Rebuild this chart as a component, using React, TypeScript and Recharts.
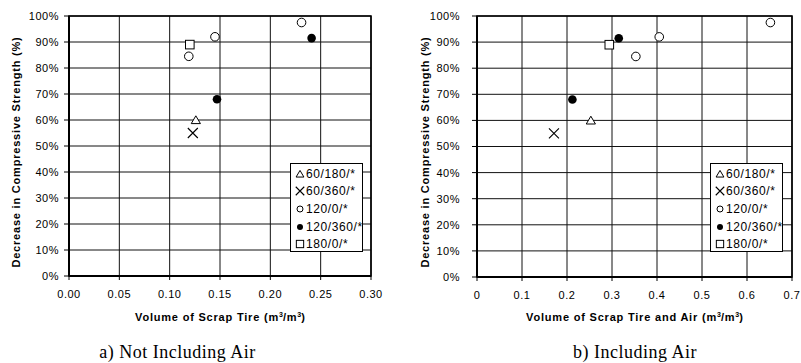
import { ScatterChart, Scatter, XAxis, YAxis, CartesianGrid, ReferenceArea } from "recharts";

const SANS = "Arial, 'Liberation Sans', Helvetica, sans-serif";
const SERIF = "'Times New Roman', 'Liberation Serif', serif";

const yTicks = [0, 10, 20, 30, 40, 50, 60, 70, 80, 90, 100];
const xTicksA = [0, 0.05, 0.1, 0.15, 0.2, 0.25, 0.3];
const xTicksB = [0, 0.1, 0.2, 0.3, 0.4, 0.5, 0.6, 0.7];

const seriesNames = ["60/180/*", "60/360/*", "120/0/*", "120/360/*", "180/0/*"];
const markerKinds = ["triangle", "cross", "circle", "dot", "square"];

// a) not including air
const a60_180 = [{ x: 0.126, y: 60 }];
const a60_360 = [{ x: 0.123, y: 55 }];
const a120_0 = [
  { x: 0.119, y: 84.5 },
  { x: 0.145, y: 92 },
  { x: 0.231, y: 97.5 },
];
const a120_360 = [
  { x: 0.147, y: 68 },
  { x: 0.241, y: 91.5 },
];
const a180_0 = [{ x: 0.12, y: 89 }];

// b) including air
const b60_180 = [{ x: 0.253, y: 60 }];
const b60_360 = [{ x: 0.171, y: 55 }];
const b120_0 = [
  { x: 0.353, y: 84.5 },
  { x: 0.405, y: 92 },
  { x: 0.652, y: 97.5 },
];
const b120_360 = [
  { x: 0.212, y: 68 },
  { x: 0.315, y: 91.5 },
];
const b180_0 = [{ x: 0.294, y: 89 }];

const Marker = ({ kind, cx, cy, k = 1 }: any) => {
  if (cx == null || cy == null) return null;
  switch (kind) {
    case "triangle":
      return (
        <polygon
          points={`${cx},${cy - 4.2 * k} ${cx + 4.6 * k},${cy + 3.6 * k} ${cx - 4.6 * k},${cy + 3.6 * k}`}
          fill="#fff"
          stroke="#000"
          strokeWidth={1}
        />
      );
    case "cross":
      return (
        <path
          d={`M${cx - 5 * k},${cy - 5 * k}L${cx + 5 * k},${cy + 5 * k}M${cx + 5 * k},${cy - 5 * k}L${cx - 5 * k},${cy + 5 * k}`}
          stroke="#000"
          strokeWidth={1.1}
        />
      );
    case "circle":
      return <circle cx={cx} cy={cy} r={4.3 * k} fill="#fff" stroke="#000" strokeWidth={1} />;
    case "dot":
      return <circle cx={cx} cy={cy} r={4.3 * k} fill="#000" />;
    default:
      return (
        <rect x={cx - 4.3 * k} y={cy - 4.3 * k} width={8.6 * k} height={8.6 * k} fill="#fff" stroke="#000" strokeWidth={1} />
      );
  }
};

const XTitle = ({ width, xx, xText }: any) => (
  <svg
    width={width}
    height={363}
    style={{ position: "absolute", left: 0, top: 0, pointerEvents: "none" }}
  >
    <text x={xx} y={321} textAnchor="middle" fontFamily={SANS} fontWeight="bold" fontSize={11} fill="#000">
      <tspan letterSpacing={0.8}>{xText} (m</tspan>
      <tspan dy={-4} fontSize={7}>3</tspan>
      <tspan dy={4} letterSpacing={0.8}>/m</tspan>
      <tspan dy={-4} fontSize={7}>3</tspan>
      <tspan dy={4}>)</tspan>
    </text>
  </svg>
);

const YTitle = ({ cx }: any) => (
  <div
    style={{
      position: "absolute",
      left: cx - 130,
      top: 152 - 7,
      width: 260,
      height: 14,
      lineHeight: "14px",
      textAlign: "center",
      transform: "rotate(-90deg)",
      fontFamily: SANS,
      fontWeight: "bold",
      fontSize: 11,
      letterSpacing: 0.8,
      whiteSpace: "nowrap",
      color: "#000",
    }}
  >
    Decrease in Compressive Strength (%)
  </div>
);

const LegendBox = ({ left }: any) => (
  <div
    style={{
      position: "absolute",
      left,
      top: 163,
      width: 73,
      height: 89,
      boxSizing: "border-box",
      border: "1px solid #000",
      background: "#fff",
      padding: "1px 0 0 4px",
      fontFamily: SANS,
      fontSize: 12,
      letterSpacing: 0.6,
      color: "#000",
      whiteSpace: "nowrap",
    }}
  >
    {seriesNames.map((n, i) => (
      <div key={n} style={{ height: 17.6, display: "flex", alignItems: "center" }}>
        <svg width={10} height={10} style={{ marginRight: 1, overflow: "visible" }}>
          <Marker kind={markerKinds[i]} cx={5} cy={5} k={i === 2 || i === 3 ? 0.7 : 0.85} />
        </svg>
        <span>{n}</span>
      </div>
    ))}
  </div>
);

const tickStyle = { fontSize: 11, fill: "#000", fontFamily: SANS, letterSpacing: 0.5 };

const Panel = ({
  left,
  width,
  rightMargin,
  bottomMargin,
  yWidth,
  yTickMargin,
  xMax,
  xTicks,
  xFormat,
  xTitle,
  yTitleX,
  legendLeft,
  caption,
  captionCenter,
  sets,
}: any) => {
  const plotCenter = yWidth + (width - yWidth - rightMargin) / 2;
  return (
    <div style={{ position: "absolute", left, top: 0, width, height: 363 }}>
      <ScatterChart width={width} height={363} margin={{ top: 16, right: rightMargin, bottom: bottomMargin, left: 0 }}>
        <CartesianGrid stroke="#111" strokeWidth={1} />
        <XAxis
          type="number"
          dataKey="x"
          domain={[0, xMax]}
          ticks={xTicks}
          tickFormatter={xFormat}
          height={40}
          tick={tickStyle}
          tickSize={4}
          tickMargin={10}
          tickLine={{ stroke: "#000" }}
          axisLine={{ stroke: "#000", strokeWidth: 2 }}
          interval={0}
        />
        <YAxis
          type="number"
          dataKey="y"
          domain={[0, 100]}
          ticks={yTicks}
          tickFormatter={(v: number) => `${v}%`}
          width={yWidth}
          tick={tickStyle}
          tickSize={5}
          tickMargin={yTickMargin}
          tickLine={{ stroke: "#000" }}
          axisLine={{ stroke: "#000", strokeWidth: 2 }}
          interval={0}
        />
        <ReferenceArea x1={0} x2={xMax} y1={0} y2={100} fill="none" fillOpacity={0} stroke="#000" strokeWidth={1.6} />
        {sets.map((d: any, i: number) => (
          <Scatter
            key={seriesNames[i]}
            name={seriesNames[i]}
            data={d}
            isAnimationActive={false}
            shape={(p: any) => <Marker kind={markerKinds[i]} cx={p.cx} cy={p.cy} />}
          />
        ))}
      </ScatterChart>
      <XTitle width={width} xx={plotCenter} xText={xTitle} />
      <YTitle cx={yTitleX} />
      <LegendBox left={legendLeft} />
      <div
        style={{
          position: "absolute",
          left: captionCenter - 120,
          width: 240,
          top: 343,
          textAlign: "center",
          fontFamily: SERIF,
          fontSize: 18,
          lineHeight: "18px",
          letterSpacing: 0.5,
          color: "#000",
          whiteSpace: "nowrap",
        }}
      >
        {caption}
      </div>
    </div>
  );
};

export default function App() {
  return (
    <div style={{ position: "absolute", left: 0, top: 0, width: 801, height: 363, background: "#fff", overflow: "hidden" }}>
      <Panel
        left={0}
        width={400}
        rightMargin={29}
        bottomMargin={47}
        yWidth={69}
        yTickMargin={5}
        xMax={0.3}
        xTicks={xTicksA}
        xFormat={(v: number) => v.toFixed(2)}
        xTitle="Volume of Scrap Tire"
        yTitleX={16}
        legendLeft={290}
        caption="a) Not Including Air"
        captionCenter={177.5}
        sets={[a60_180, a60_360, a120_0, a120_360, a180_0]}
      />
      <Panel
        left={400}
        width={401}
        rightMargin={9}
        bottomMargin={46}
        yWidth={77}
        yTickMargin={12}
        xMax={0.7}
        xTicks={xTicksB}
        xFormat={(v: number) => `${v}`}
        xTitle="Volume of Scrap Tire and Air"
        yTitleX={25.4}
        legendLeft={310}
        caption="b) Including Air"
        captionCenter={235}
        sets={[b60_180, b60_360, b120_0, b120_360, b180_0]}
      />
    </div>
  );
}
